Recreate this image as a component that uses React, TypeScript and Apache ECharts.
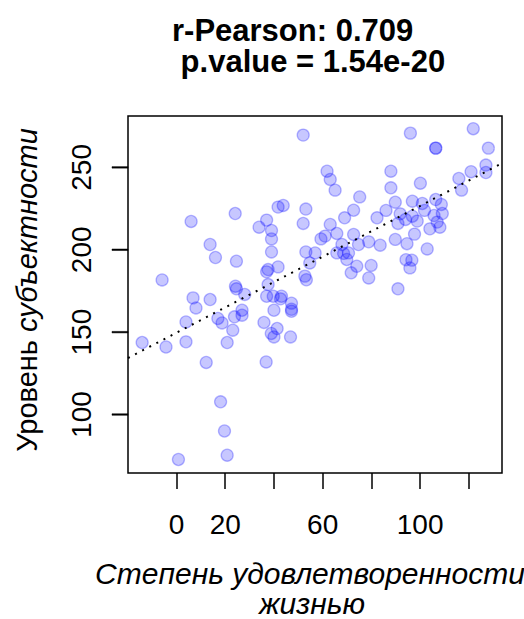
import React, { useEffect, useRef } from "react";
import * as echarts from "echarts";

// Scatter values (x: life satisfaction, y: subjectness level)
const satisfaction = [
  52.0, 96.0, 121.8, 106.4, 106.4, 128.0, 61.8, 63.1, 65.1, 88.0,
  88.0, 100.1, 127.0, 127.0, 120.9, 115.9, 117.0, 75.2, 72.7, 69.0,
  89.8, 86.0, 82.3, 91.8, 90.9, 94.0, 96.8, 100.9, 101.8, 106.4,
  108.7, 109.1, 105.7, 96.8, 98.8, 107.0, 108.1, 104.0, 97.7, 94.6,
  102.9, 94.2, 96.6, 95.8, 90.9, 63.1, 65.8, 61.0, 59.3, 56.9,
  54.7, 72.7, 67.9, 65.8, 68.6, 70.6, 69.9, 74.7, 78.9, 83.6,
  89.8, 74.0, 71.7, 79.9, 78.9, 52.7, 53.3, 53.1, 41.7, 37.6,
  37.0, 24.1, 41.7, 43.8, 53.1, 37.0, 33.9, 39.0, 39.0, 52.0,
  39.0, 24.6, 16.0, 6.0, 13.8, -5.9, 6.8, 13.8, 24.2, 24.6,
  28.0, 37.6, 37.0, 39.7, 43.1, 42.7, 47.2, 47.2, 47.2, 8.0,
  3.9, -14.1, -4.3, 3.9, 12.2, 17.0, 18.7, 23.1, 20.8, 23.8,
  26.9, 26.9, 40.0, 35.9, 41.3, 38.9, 40.0, 46.8, 36.8, 18.1,
  19.7, 20.8, 0.8,
];
const subjectness = [
  269.6, 270.8, 273.5, 261.7, 261.7, 261.7, 247.7, 242.7, 236.2, 247.7,
  237.6, 240.4, 251.4, 246.9, 247.4, 243.3, 236.2, 232.1, 224.0, 219.4,
  228.9, 223.9, 219.4, 221.8, 216.0, 218.4, 229.5, 228.1, 223.9, 230.5,
  227.5, 222.0, 220.8, 220.4, 217.4, 216.8, 213.7, 212.7, 209.5, 203.7,
  200.5, 194.0, 193.7, 189.0, 176.3, 215.4, 209.9, 208.3, 206.6, 198.1,
  192.0, 209.3, 203.2, 198.1, 197.8, 198.1, 194.1, 203.2, 204.8, 202.8,
  206.3, 190.0, 186.0, 190.5, 182.9, 184.0, 181.8, 198.7, 189.6, 188.0,
  186.6, 222.0, 225.9, 226.9, 224.7, 218.0, 213.7, 211.7, 206.6, 216.0,
  198.7, 193.1, 195.3, 217.2, 203.2, 181.7, 170.8, 169.8, 177.9, 176.3,
  172.9, 178.9, 171.8, 171.8, 171.8, 170.2, 167.6, 163.9, 162.7, 164.7,
  156.2, 143.7, 141.0, 144.1, 131.6, 158.3, 155.6, 151.2, 143.7, 159.3,
  163.3, 160.3, 163.3, 155.9, 152.2, 149.2, 147.1, 147.1, 131.9, 107.7,
  90.0, 75.3, 72.7,
];

// Regression (abline) end points
const trendX = [-19.9, 133.6];
const trendY = [134.3, 252.5];

const xTicks = [0, 20, 40, 60, 80, 100, 120];
const xTickLabels = [0, 20, 60, 100];
const yTicks = [100, 150, 200, 250];

const titleText = "r-Pearson: 0.709\n p.value = 1.54e-20";
const xTitle1 = "Степень удовлетворенности";
const xTitle2 = "жизнью";
const yTitleA = "Уровень ";
const yTitleB = "субъектности";

const FONT = "'Liberation Sans', Arial, sans-serif";
const X_MIN = -19.9;
const X_MAX = 133.6;
const Y_MIN = 64.5;
const Y_MAX = 281.2;
const GRID = { left: 128, top: 116, width: 374, height: 357 };

export default function App() {
  const ref = useRef<HTMLDivElement>(null);
  useEffect(() => {
    if (!ref.current) return;
    const chart = echarts.init(ref.current, null, { renderer: "svg" });
    const points = satisfaction.map((x, i) => [x, subjectness[i]]);
    const trend = trendX.map((x, i) => [x, trendY[i]]);
    const tickStyle = { color: "#000", width: 1.5 };
    const texts: any[] = [
      {
        type: "text",
        left: 172,
        top: 15,
        style: {
          text: titleText,
          font: `bold 31px ${FONT}`,
          lineHeight: 31,
          fill: "#000",
          align: "left",
        },
      },
      {
        type: "text",
        x: 310,
        y: 573,
        style: {
          text: xTitle1,
          font: `italic 30px ${FONT}`,
          lineHeight: 29,
          fill: "#000",
          align: "center",
          verticalAlign: "middle",
        },
      },
      {
        type: "text",
        x: 312,
        y: 618,
        style: {
          text: xTitle2,
          font: `italic 30px ${FONT}`,
          lineHeight: 29,
          fill: "#000",
          align: "center",
          verticalAlign: "bottom",
        },
      },
      {
        type: "text",
        x: 27,
        y: 290,
        rotation: Math.PI / 2,
        style: {
          text: `{a|${yTitleA}}{b|${yTitleB}}`,
          align: "center",
          verticalAlign: "middle",
          fill: "#000",
          rich: {
            a: { fontSize: 29, fontFamily: FONT, fontStyle: "normal", fill: "#000" },
            b: { fontSize: 29, fontFamily: FONT, fontStyle: "italic", fill: "#000" },
          },
        },
      },
    ];
    chart.setOption({
      animation: false,
      backgroundColor: "#fff",
      textStyle: { fontFamily: FONT },
      grid: {
        ...GRID,
        show: true,
        borderColor: "#000",
        borderWidth: 1.5,
        backgroundColor: "transparent",
      },
      xAxis: {
        type: "value",
        min: X_MIN,
        max: X_MAX,
        axisLine: { show: false, onZero: false },
        splitLine: { show: false },
        axisTick: {
          show: true,
          inside: false,
          length: 16,
          customValues: xTicks,
          lineStyle: tickStyle,
        },
        axisLabel: {
          customValues: xTickLabels,
          margin: 37,
          fontSize: 28,
          color: "#000",
          fontFamily: FONT,
        },
      },
      yAxis: {
        type: "value",
        min: Y_MIN,
        max: Y_MAX,
        axisLine: { show: false, onZero: false },
        splitLine: { show: false },
        axisTick: { show: false },
        axisLabel: {
          customValues: yTicks,
          rotate: 90,
          margin: 33,
          fontSize: 28,
          color: "#000",
          fontFamily: FONT,
        },
      },
      series: [
        {
          type: "scatter",
          data: points,
          symbol: "circle",
          symbolSize: 12,
          itemStyle: {
            color: "rgba(0,0,255,0.22)",
            borderColor: "rgba(0,0,255,0.28)",
            borderWidth: 1.3,
            opacity: 1,
          },
          z: 2,
        },
        {
          type: "line",
          data: trend,
          symbol: "none",
          lineStyle: { color: "#000", width: 2, type: [2, 6] },
          z: 3,
        },
      ],
      graphic: texts,
    });

    // y-axis tick marks: positions from the library's y scale
    let axisX = chart.convertToPixel({ xAxisIndex: 0 }, X_MIN) as any;
    if (typeof axisX !== "number" || !isFinite(axisX)) axisX = GRID.left;
    const tickRects: any[] = yTicks.map((v) => {
      let py = chart.convertToPixel({ yAxisIndex: 0 }, v) as any;
      if (typeof py !== "number" || !isFinite(py)) {
        py = GRID.top + (GRID.height * (Y_MAX - v)) / (Y_MAX - Y_MIN);
      }
      return {
        type: "rect",
        z: 1000,
        shape: { x: axisX - 16, y: py - 0.75, width: 16, height: 1.5 },
        style: { fill: "#000", stroke: "#000", lineWidth: 0.5 },
        silent: true,
      };
    });
    chart.setOption({ graphic: [...texts, ...tickRects] });
    return () => chart.dispose();
  }, []);
  return (
    <div
      ref={ref}
      style={{ position: "fixed", left: 0, top: 0, width: 524, height: 619 }}
    />
  );
}
